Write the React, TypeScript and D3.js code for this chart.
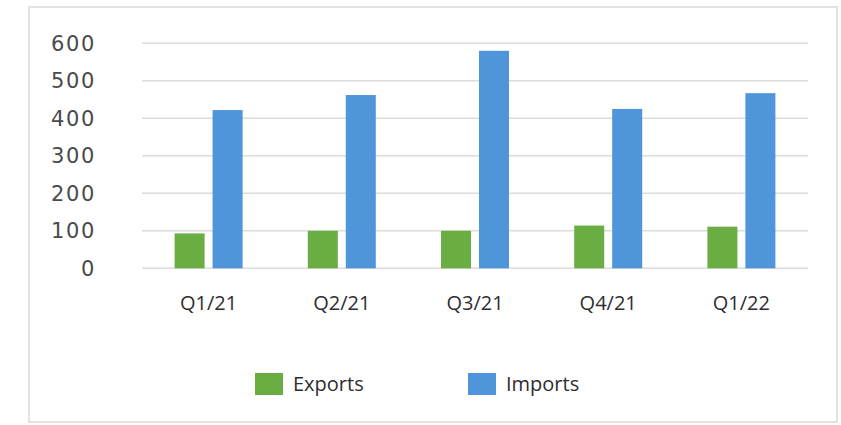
import React from "react";
import * as d3 from "d3";

const categories = ["Q1/21", "Q2/21", "Q3/21", "Q4/21", "Q1/22"];
const seriesNames = ["Exports", "Imports"];
const exportsValues = [93, 100, 100, 114, 111];
const importsValues = [422, 462, 580, 425, 467];
const yTicks = [0, 100, 200, 300, 400, 500, 600];
const colors = ["#6aad43", "#4f95d9"];

const W = 841;
const H = 425;

export default function App() {
  const x = d3.scaleBand<string>().domain(categories).range([142, 808]).paddingInner(0).paddingOuter(0);
  const xs = d3.scaleBand<string>().domain(seriesNames).range([-34, 34]).paddingInner(0.21);
  const y = d3.scaleLinear().domain([0, 600]).range([268.3, 43.3]);
  const series = [exportsValues, importsValues];
  const legendX = [255, 468];

  return (
    <svg width={W} height={H} style={{ position: "absolute", left: 0, top: 0, background: "#fff" }}>
      <rect x={29} y={7} width={808} height={415} fill="#fff" stroke="#e3e3e3" strokeWidth={2} />
      {yTicks.map((t) => (
        <g key={t}>
          <line x1={142} x2={808} y1={y(t)} y2={y(t)} stroke="#dcdcdc" strokeWidth={1.6} />
          <text
            x={96}
            y={y(t)}
            dy="0.36em"
            textAnchor="end"
            fontFamily="DejaVu Sans, sans-serif"
            fontSize={21}
            letterSpacing={1.6}
            fill="#4a4a4a"
          >
            {t}
          </text>
        </g>
      ))}
      {categories.map((c, i) => {
        const cx = (x(c) as number) + x.bandwidth() / 2;
        return (
          <g key={c}>
            {series.map((vals, s) => (
              <rect
                key={s}
                x={cx + (xs(seriesNames[s]) as number)}
                y={y(vals[i])}
                width={xs.bandwidth()}
                height={y(0) - y(vals[i])}
                fill={colors[s]}
              />
            ))}
            <text
              x={cx}
              y={310}
              textAnchor="middle"
              fontFamily="Open Sans, sans-serif"
              fontSize={20}
              fill="#2e2e2e"
            >
              {c}
            </text>
          </g>
        );
      })}
      {seriesNames.map((n, s) => (
        <g key={n}>
          <rect x={legendX[s]} y={373} width={28} height={22} fill={colors[s]} />
          <text
            x={legendX[s] + 38}
            y={391}
            fontFamily="Open Sans, sans-serif"
            fontSize={20}
            fill="#2e2e2e"
          >
            {n}
          </text>
        </g>
      ))}
    </svg>
  );
}
